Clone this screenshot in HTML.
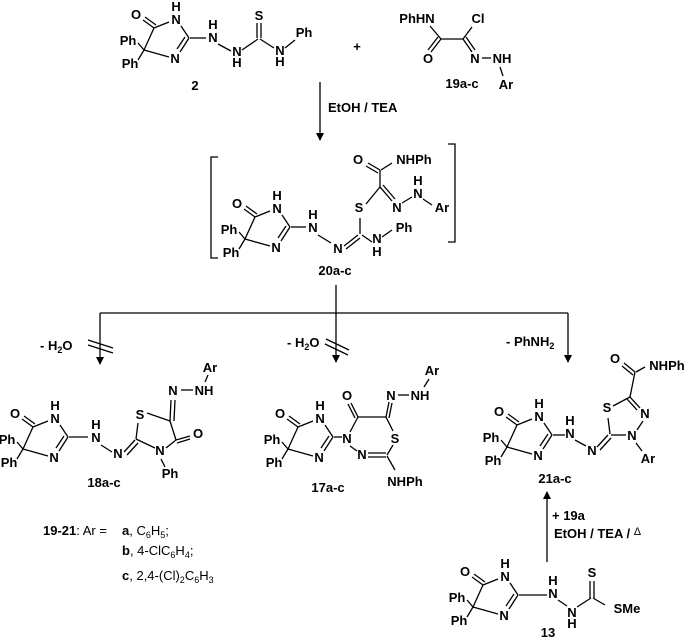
<!DOCTYPE html>
<html><head><meta charset="utf-8"><style>
html,body{margin:0;padding:0;background:#fff;}
svg{display:block;}
text{font-family:"Liberation Sans",Arial,sans-serif;font-size:13px;font-weight:bold;fill:#000;}
.c{text-anchor:middle;}
.n{font-weight:normal;}
line,polyline{stroke:#000;stroke-width:1.3;fill:none;}
</style></head><body>
<svg width="687" height="642" viewBox="0 0 687 642">
<defs>
<marker id="ah" markerWidth="8" markerHeight="10" refX="7" refY="5" orient="auto" markerUnits="userSpaceOnUse">
<path d="M0,1 L8,5 L0,9 Z" fill="#000"/></marker>
</defs>

<!-- reusable imidazolone (drawn per compound) -->
<!-- Compound 2 -->
<g transform="translate(189,38)">
<line x1="0" y1="0" x2="-8" y2="-12"/><line x1="-20" y1="-16" x2="-35" y2="-10"/>
<line x1="-35" y1="-10" x2="-46" y2="-18"/><line x1="-33" y1="-13" x2="-44" y2="-21"/>
<line x1="-35" y1="-10" x2="-45" y2="12"/><line x1="-45" y1="12" x2="-20" y2="19"/>
<line x1="0" y1="0" x2="-9" y2="14"/><line x1="-4" y1="-1" x2="-12" y2="11"/>
<line x1="-45" y1="12" x2="-51" y2="5"/><line x1="-45" y1="12" x2="-51" y2="22"/>
<text class="c" x="-13" y="-14">N</text><text class="c" x="-13" y="-27">H</text>
<text class="c" x="-53" y="-19">O</text><text class="c" x="-14" y="25">N</text>
<text class="c" x="-61" y="7">Ph</text><text class="c" x="-59" y="30">Ph</text>
</g>
<line x1="190" y1="38" x2="206" y2="38"/>
<text class="c" x="213" y="42">N</text><text class="c" x="213" y="29">H</text>
<line x1="218" y1="44" x2="231" y2="51"/>
<text class="c" x="237" y="56">N</text><text class="c" x="237" y="67">H</text>
<line x1="242" y1="50" x2="258" y2="39"/>
<line x1="257" y1="38" x2="257" y2="23"/><line x1="261" y1="38" x2="261" y2="23"/>
<text class="c" x="259" y="20">S</text>
<line x1="260" y1="39" x2="274" y2="48"/>
<text class="c" x="280" y="55">N</text><text class="c" x="280" y="66">H</text>
<line x1="285" y1="48" x2="295" y2="40"/>
<text class="c" x="304" y="37">Ph</text>
<text class="c" x="195" y="90">2</text>
<text class="c" x="357" y="51">+</text>

<!-- 19a-c -->
<text class="c" x="417" y="23">PhHN</text>
<line x1="430" y1="26" x2="441" y2="39"/>
<line x1="441" y1="39" x2="431" y2="52"/><line x1="438" y1="37" x2="428" y2="50"/>
<text class="c" x="428" y="63">O</text>
<line x1="441" y1="39" x2="463" y2="39"/>
<line x1="463" y1="39" x2="472" y2="27"/>
<text class="c" x="478" y="23">Cl</text>
<line x1="463" y1="39" x2="472" y2="52"/><line x1="466" y1="37" x2="475" y2="50"/>
<text class="c" x="475" y="63">N</text>
<line x1="482" y1="58" x2="491" y2="58"/>
<text class="c" x="502" y="63">NH</text>
<line x1="500" y1="67" x2="503" y2="76"/>
<text class="c" x="506" y="89">Ar</text>
<text class="c" x="462" y="88">19a-c</text>

<!-- arrow 1 -->
<line x1="320" y1="82" x2="320" y2="140" marker-end="url(#ah)"/>
<text x="328" y="112">EtOH / TEA</text>

<!-- brackets -->
<polyline points="218,157 211,157 211,258 218,258"/>
<polyline points="448,144 455,144 455,242 448,242"/>

<!-- Compound 20 -->
<g transform="translate(290,227)">
<line x1="0" y1="0" x2="-8" y2="-12"/><line x1="-20" y1="-16" x2="-35" y2="-10"/>
<line x1="-35" y1="-10" x2="-46" y2="-18"/><line x1="-33" y1="-13" x2="-44" y2="-21"/>
<line x1="-35" y1="-10" x2="-45" y2="12"/><line x1="-45" y1="12" x2="-20" y2="19"/>
<line x1="0" y1="0" x2="-9" y2="14"/><line x1="-4" y1="-1" x2="-12" y2="11"/>
<line x1="-45" y1="12" x2="-51" y2="5"/><line x1="-45" y1="12" x2="-51" y2="22"/>
<text class="c" x="-13" y="-14">N</text><text class="c" x="-13" y="-27">H</text>
<text class="c" x="-53" y="-19">O</text><text class="c" x="-14" y="25">N</text>
<text class="c" x="-61" y="7">Ph</text><text class="c" x="-59" y="30">Ph</text>
</g>
<line x1="291" y1="227" x2="306" y2="227"/>
<text class="c" x="313" y="232">N</text><text class="c" x="313" y="219">H</text>
<line x1="318" y1="235" x2="331" y2="243"/>
<text class="c" x="338" y="253">N</text>
<line x1="344" y1="246" x2="358" y2="235"/><line x1="346" y1="249" x2="360" y2="238"/>
<line x1="360" y1="234" x2="360" y2="218"/>
<text class="c" x="359" y="212">S</text>
<line x1="362" y1="235" x2="372" y2="242"/>
<text class="c" x="377" y="243">N</text><text class="c" x="377" y="256">H</text>
<line x1="382" y1="237" x2="392" y2="230"/>
<text class="c" x="404" y="232">Ph</text>
<line x1="366" y1="204" x2="380" y2="187"/>
<line x1="380" y1="187" x2="392" y2="201"/><line x1="383" y1="185" x2="395" y2="199"/>
<text class="c" x="397" y="212">N</text>
<line x1="402" y1="203" x2="412" y2="197"/>
<text class="c" x="418" y="198">N</text><text class="c" x="418" y="185">H</text>
<line x1="423" y1="199" x2="432" y2="205"/>
<text class="c" x="442" y="212">Ar</text>
<line x1="380" y1="187" x2="380" y2="170"/>
<line x1="380" y1="170" x2="368" y2="163"/><line x1="378" y1="173" x2="366" y2="166"/>
<text class="c" x="358" y="164">O</text>
<line x1="381" y1="170" x2="392" y2="163"/>
<text class="c" x="414" y="164">NHPh</text>
<text class="c" x="335" y="275">20a-c</text>

<!-- branching -->
<line x1="336" y1="285" x2="336" y2="313"/>
<line x1="100" y1="313" x2="568" y2="313"/>
<line x1="100" y1="313" x2="100" y2="364" marker-end="url(#ah)"/>
<line x1="336" y1="313" x2="336" y2="362" marker-end="url(#ah)"/>
<line x1="568" y1="313" x2="568" y2="362" marker-end="url(#ah)"/>
<line x1="88" y1="340" x2="113" y2="348"/><line x1="88" y1="345" x2="113" y2="353"/>
<line x1="326" y1="339" x2="349" y2="350"/><line x1="325" y1="344" x2="348" y2="355"/>
<text x="40" y="350">- H<tspan font-size="9" dy="3">2</tspan><tspan dy="-3">O</tspan></text>
<text x="287" y="347">- H<tspan font-size="9" dy="3">2</tspan><tspan dy="-3">O</tspan></text>
<text x="506" y="346">- PhNH<tspan font-size="9" dy="3">2</tspan></text>

<!-- Compound 18 -->
<g transform="translate(68,437)">
<line x1="0" y1="0" x2="-8" y2="-12"/><line x1="-20" y1="-16" x2="-35" y2="-10"/>
<line x1="-35" y1="-10" x2="-46" y2="-18"/><line x1="-33" y1="-13" x2="-44" y2="-21"/>
<line x1="-35" y1="-10" x2="-45" y2="12"/><line x1="-45" y1="12" x2="-20" y2="19"/>
<line x1="0" y1="0" x2="-9" y2="14"/><line x1="-4" y1="-1" x2="-12" y2="11"/>
<line x1="-45" y1="12" x2="-51" y2="5"/><line x1="-45" y1="12" x2="-51" y2="22"/>
<text class="c" x="-13" y="-14">N</text><text class="c" x="-13" y="-27">H</text>
<text class="c" x="-53" y="-19">O</text><text class="c" x="-14" y="25">N</text>
<text class="c" x="-61" y="7">Ph</text><text class="c" x="-59" y="30">Ph</text>
</g>
<line x1="69" y1="437" x2="88" y2="437"/>
<text class="c" x="96" y="442">N</text><text class="c" x="96" y="429">H</text>
<line x1="101" y1="445" x2="112" y2="452"/>
<text class="c" x="118" y="458">N</text>
<line x1="124" y1="452" x2="135" y2="440"/><line x1="127" y1="455" x2="138" y2="443"/>
<line x1="136" y1="439" x2="138" y2="423"/>
<text class="c" x="140" y="419">S</text>
<line x1="147" y1="413" x2="170" y2="421"/>
<line x1="170" y1="421" x2="176" y2="440"/>
<line x1="176" y1="440" x2="166" y2="448"/>
<line x1="155" y1="448" x2="136" y2="439"/>
<line x1="170" y1="421" x2="171" y2="400"/><line x1="174" y1="421" x2="175" y2="400"/>
<text class="c" x="173" y="395">N</text>
<line x1="181" y1="390" x2="193" y2="390"/>
<text class="c" x="204" y="395">NH</text>
<line x1="205" y1="382" x2="208" y2="375"/>
<text class="c" x="210" y="372">Ar</text>
<line x1="176" y1="440" x2="190" y2="436"/><line x1="177" y1="443" x2="190" y2="439"/>
<text class="c" x="198" y="438">O</text>
<text class="c" x="160" y="455">N</text>
<line x1="161" y1="459" x2="165" y2="467"/>
<text class="c" x="170" y="478">Ph</text>
<text class="c" x="104" y="487">18a-c</text>

<!-- Compound 17 -->
<g transform="translate(333,437)">
<line x1="0" y1="0" x2="-8" y2="-12"/><line x1="-20" y1="-16" x2="-35" y2="-10"/>
<line x1="-35" y1="-10" x2="-46" y2="-18"/><line x1="-33" y1="-13" x2="-44" y2="-21"/>
<line x1="-35" y1="-10" x2="-45" y2="12"/><line x1="-45" y1="12" x2="-20" y2="19"/>
<line x1="0" y1="0" x2="-9" y2="14"/><line x1="-4" y1="-1" x2="-12" y2="11"/>
<line x1="-45" y1="12" x2="-51" y2="5"/><line x1="-45" y1="12" x2="-51" y2="22"/>
<text class="c" x="-13" y="-14">N</text><text class="c" x="-13" y="-27">H</text>
<text class="c" x="-53" y="-19">O</text><text class="c" x="-14" y="25">N</text>
<text class="c" x="-61" y="7">Ph</text><text class="c" x="-59" y="30">Ph</text>
</g>
<line x1="334" y1="437" x2="342" y2="437"/>
<text class="c" x="347" y="443">N</text>
<line x1="350" y1="432" x2="358" y2="417"/>
<line x1="358" y1="417" x2="351" y2="403"/><line x1="355" y1="418" x2="348" y2="404"/>
<text class="c" x="347" y="400">O</text>
<line x1="358" y1="417" x2="386" y2="417"/>
<line x1="386" y1="417" x2="389" y2="402"/><line x1="389" y1="418" x2="392" y2="403"/>
<text class="c" x="391" y="400">N</text>
<line x1="398" y1="395" x2="409" y2="395"/>
<text class="c" x="420" y="400">NH</text>
<line x1="424" y1="387" x2="429" y2="379"/>
<text class="c" x="432" y="375">Ar</text>
<line x1="386" y1="417" x2="393" y2="431"/>
<text class="c" x="395" y="443">S</text>
<line x1="393" y1="445" x2="387" y2="455"/>
<line x1="368" y1="453" x2="386" y2="453"/><line x1="368" y1="457" x2="386" y2="457"/>
<text class="c" x="362" y="459">N</text>
<line x1="350" y1="446" x2="357" y2="451"/>
<line x1="387" y1="456" x2="395" y2="470"/>
<text class="c" x="405" y="486">NHPh</text>
<text class="c" x="328" y="492">17a-c</text>

<!-- Compound 21 -->
<g transform="translate(552,435)">
<line x1="0" y1="0" x2="-8" y2="-12"/><line x1="-20" y1="-16" x2="-35" y2="-10"/>
<line x1="-35" y1="-10" x2="-46" y2="-18"/><line x1="-33" y1="-13" x2="-44" y2="-21"/>
<line x1="-35" y1="-10" x2="-45" y2="12"/><line x1="-45" y1="12" x2="-20" y2="19"/>
<line x1="0" y1="0" x2="-9" y2="14"/><line x1="-4" y1="-1" x2="-12" y2="11"/>
<line x1="-45" y1="12" x2="-51" y2="5"/><line x1="-45" y1="12" x2="-51" y2="22"/>
<text class="c" x="-13" y="-14">N</text><text class="c" x="-13" y="-27">H</text>
<text class="c" x="-53" y="-19">O</text><text class="c" x="-14" y="25">N</text>
<text class="c" x="-61" y="7">Ph</text><text class="c" x="-59" y="30">Ph</text>
</g>
<line x1="553" y1="435" x2="565" y2="435"/>
<text class="c" x="570" y="438">N</text><text class="c" x="570" y="425">H</text>
<line x1="575" y1="440" x2="586" y2="446"/>
<text class="c" x="592" y="455">N</text>
<line x1="597" y1="447" x2="608" y2="435"/><line x1="600" y1="450" x2="611" y2="438"/>
<line x1="610" y1="434" x2="608" y2="418"/>
<text class="c" x="607" y="412">S</text>
<line x1="613" y1="406" x2="630" y2="397"/>
<line x1="630" y1="397" x2="640" y2="408"/><line x1="627" y1="399" x2="637" y2="410"/>
<text class="c" x="645" y="418">N</text>
<line x1="643" y1="421" x2="637" y2="430"/>
<text class="c" x="632" y="440">N</text>
<line x1="626" y1="435" x2="611" y2="435"/>
<line x1="636" y1="443" x2="642" y2="451"/>
<text class="c" x="648" y="463">Ar</text>
<line x1="630" y1="397" x2="635" y2="372"/>
<line x1="635" y1="372" x2="624" y2="363"/><line x1="633" y1="375" x2="622" y2="366"/>
<text class="c" x="615" y="363">O</text>
<line x1="636" y1="372" x2="645" y2="367"/>
<text class="c" x="667" y="370">NHPh</text>
<text class="c" x="555" y="483">21a-c</text>

<!-- arrow up -->
<line x1="547" y1="562" x2="547" y2="492" marker-end="url(#ah)"/>
<text x="552" y="520">+ 19a</text>
<text x="554" y="538">EtOH / TEA / <tspan class="n" font-weight="normal" font-size="11" dy="-3">Δ</tspan></text>

<!-- Compound 13 -->
<g transform="translate(518,595)">
<line x1="0" y1="0" x2="-8" y2="-12"/><line x1="-20" y1="-16" x2="-35" y2="-10"/>
<line x1="-35" y1="-10" x2="-46" y2="-18"/><line x1="-33" y1="-13" x2="-44" y2="-21"/>
<line x1="-35" y1="-10" x2="-45" y2="12"/><line x1="-45" y1="12" x2="-20" y2="19"/>
<line x1="0" y1="0" x2="-9" y2="14"/><line x1="-4" y1="-1" x2="-12" y2="11"/>
<line x1="-45" y1="12" x2="-51" y2="5"/><line x1="-45" y1="12" x2="-51" y2="22"/>
<text class="c" x="-13" y="-14">N</text><text class="c" x="-13" y="-27">H</text>
<text class="c" x="-53" y="-19">O</text><text class="c" x="-14" y="25">N</text>
<text class="c" x="-61" y="7">Ph</text><text class="c" x="-59" y="30">Ph</text>
</g>
<line x1="519" y1="595" x2="547" y2="595"/>
<text class="c" x="553" y="598">N</text><text class="c" x="553" y="585">H</text>
<line x1="558" y1="600" x2="567" y2="606"/>
<text class="c" x="572" y="617">N</text><text class="c" x="572" y="628">H</text>
<line x1="577" y1="607" x2="591" y2="598"/>
<line x1="590" y1="598" x2="590" y2="581"/><line x1="594" y1="598" x2="594" y2="581"/>
<text class="c" x="592" y="577">S</text>
<line x1="593" y1="598" x2="605" y2="605"/>
<text class="c" x="627" y="613">SMe</text>
<text class="c" x="548" y="637">13</text>

<!-- legend -->
<text x="43" y="535">19-21<tspan font-weight="normal">: Ar =</tspan></text>
<text x="122" y="535">a<tspan font-weight="normal">, C<tspan font-size="9" dy="3">6</tspan><tspan dy="-3">H</tspan><tspan font-size="9" dy="3">5</tspan><tspan dy="-3">;</tspan></tspan></text>
<text x="122" y="555">b<tspan font-weight="normal">, 4-ClC<tspan font-size="9" dy="3">6</tspan><tspan dy="-3">H</tspan><tspan font-size="9" dy="3">4</tspan><tspan dy="-3">;</tspan></tspan></text>
<text x="122" y="580">c<tspan font-weight="normal">, 2,4-(Cl)<tspan font-size="9" dy="3">2</tspan><tspan dy="-3">C</tspan><tspan font-size="9" dy="3">6</tspan><tspan dy="-3">H</tspan><tspan font-size="9" dy="3">3</tspan></tspan></text>
</svg>
</body></html>
